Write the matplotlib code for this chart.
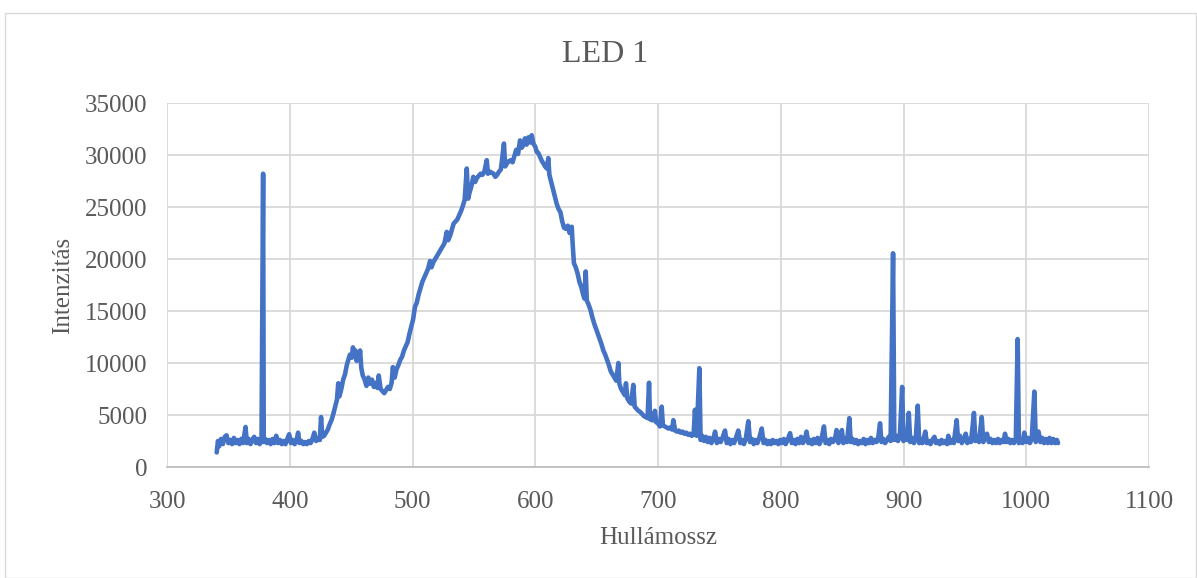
import matplotlib
matplotlib.use("Agg")
import matplotlib.pyplot as plt
from matplotlib.patches import Rectangle

plt.rcParams['font.family'] = ['Liberation Serif', 'DejaVu Serif']

title = "LED 1"
x_label = "Hullámossz"
y_label = "Intenzitás"
x_ticks = [300, 400, 500, 600, 700, 800, 900, 1000, 1100]
y_ticks = [0, 5000, 10000, 15000, 20000, 25000, 30000, 35000]

# Spectrum: (wavelength, intensity)
wavelength_left = [340.5, 341.5, 342.5, 344, 345.5, 347, 348.5, 350, 351.5, 353, 354.5, 356, 357.5, 359, 360.5, 362, 364, 365, 366.5, 368, 369.5, 371, 372.5, 374, 375.5, 377, 378.3, 378.8, 380, 381.5, 383, 384.5, 386, 387.5, 389, 390.5, 392, 393.5, 395, 396.5, 398, 399.5, 401, 402.5, 404, 405.5, 406.8, 408, 409.5, 411, 412.5, 414, 415.5, 417, 418.5, 420, 421.5, 423, 424.5, 425.5, 426.5, 428, 429.5, 431, 432.5, 434, 435.5, 437, 438.5, 439.5, 440.5, 442, 443.5, 445, 446.5, 447.7, 449, 450.5, 451.5, 452.5, 453.5, 454.5, 455.5, 456.5, 457.3, 458.3, 459.5, 461, 462.5, 464, 465.5, 467, 468.5, 470, 471.5, 472.5, 474, 475.5, 477, 478.5, 480, 481.5, 483, 484, 485.5, 487, 488.5, 490, 491.5, 493, 494.5, 496, 497.5, 499]
intensity_left = [1400, 2500, 2000, 2700, 2200, 2900, 3050, 2300, 2600, 2200, 2800, 2300, 2600, 2200, 2700, 2300, 3850, 2300, 2700, 2200, 2600, 2900, 2300, 2700, 2200, 2600, 28200, 2400, 2700, 2300, 2600, 2200, 2700, 2300, 3000, 2300, 2600, 2200, 2500, 2200, 2700, 3150, 2300, 2600, 2200, 2500, 3300, 2300, 2500, 2200, 2400, 2200, 2500, 2300, 2700, 3300, 2500, 2700, 2600, 4800, 2900, 3000, 3300, 3600, 4100, 4500, 5100, 5800, 6500, 8050, 6800, 7500, 8400, 8900, 9800, 10300, 10800, 10500, 11500, 10700, 11200, 10200, 10900, 10400, 11200, 9500, 8800, 8400, 7800, 8600, 8000, 8400, 7700, 8100, 7600, 8800, 7500, 7300, 7100, 7400, 7700, 7500, 8100, 9600, 8600, 9400, 9800, 10300, 10600, 11200, 11600, 12000, 12800, 13500]

wavelength_mid = [500.5, 502, 503.5, 505, 506.5, 508, 509.5, 511, 512.5, 514.3, 515.5, 517, 518.5, 520, 521.5, 523, 524.5, 526, 527.9, 529, 530.5, 532, 533.5, 535, 536.5, 538, 539.5, 541, 542.5, 544.2, 545.3, 546.5, 548, 549.5, 551, 552.5, 554, 555.5, 557, 558.5, 560.5, 561.5, 563, 564.5, 566, 567.5, 569, 570.5, 572, 574.5, 575.5, 577, 578.5, 580, 581.5, 583, 584.5, 586, 587.6, 589, 590.5, 591.6, 593, 594.5, 596, 597.1, 598.5, 600, 601.2, 602.5, 604, 605.5, 606.6, 608, 609.5, 610.6, 611.5, 613, 614.7, 616, 617.5, 619, 620.5, 622, 623.5, 625, 626.5, 628, 629.7, 630.5, 631.5, 633, 634.5, 636, 637.5, 639, 640, 641.1, 642, 643.5, 645, 646.5, 648, 649.5, 651, 652.5, 654, 655.5, 657, 658.5, 660, 661.5, 663, 664.5, 666, 667.7, 668.5, 670, 671.5, 673, 673.9, 675, 676.5, 678, 679.9, 681, 682.5, 684, 685.5, 687, 688.5, 690, 691.5, 692.7, 693.5, 695, 696.2, 697.5, 698.5, 700, 701.6, 703, 704, 705.5, 707, 708.5, 710, 711.5, 712.5, 714, 715.5, 717, 718.5, 720, 721.5, 723, 724.5, 726, 727.5, 729, 730.1, 731.5, 733.7, 734.7, 736]
intensity_mid = [14200, 15400, 15800, 16600, 17200, 17800, 18200, 18600, 19000, 19800, 19200, 19700, 20000, 20300, 20600, 20900, 21200, 21500, 22600, 21800, 22200, 22800, 23400, 23600, 23800, 24200, 24600, 25100, 25700, 28700, 25800, 26400, 27000, 27900, 27400, 27800, 28000, 28200, 28100, 28400, 29500, 28200, 28400, 28300, 28200, 27900, 28100, 28400, 28600, 31100, 28900, 29200, 29400, 29500, 29300, 29900, 30500, 30100, 31400, 30700, 31000, 31600, 31000, 31700, 31200, 31900, 31100, 30800, 30300, 30200, 29800, 29400, 29200, 28900, 28700, 29700, 28100, 27400, 26600, 26000, 25300, 24800, 24500, 23600, 23000, 22900, 23200, 22500, 23100, 21400, 19600, 19200, 18600, 17800, 17300, 16600, 16200, 18800, 16000, 15600, 15100, 14400, 13800, 13300, 12800, 12300, 11800, 11200, 10800, 10300, 9800, 9200, 8900, 8600, 8300, 10000, 8000, 7500, 7200, 6900, 8050, 6600, 6300, 6100, 7900, 5800, 5600, 5400, 5300, 5100, 4900, 4800, 4700, 8100, 4600, 4500, 4500, 5400, 4300, 4200, 3900, 5800, 4000, 3900, 3800, 3700, 3800, 3600, 4500, 3500, 3400, 3500, 3300, 3400, 3200, 3300, 3100, 3200, 3000, 3100, 5500, 3000, 9500, 2600, 3000]

wavelength_right = [737.5, 739, 740.5, 742, 743.5, 745, 746.5, 748, 749.5, 751, 752.5, 754.6, 756, 757.5, 759, 760.5, 762, 763.5, 765.4, 767, 768.5, 770, 771.5, 773.6, 775, 776.5, 778, 779.5, 781, 782.5, 784.5, 786, 787.5, 789, 790.5, 792, 793.5, 795, 796.5, 798, 799.5, 801, 802.5, 804, 805.5, 807.6, 809, 810.5, 812, 813.5, 815, 816.5, 818, 819.5, 821, 822.5, 824, 825.5, 827, 828.5, 830, 831.5, 833, 835.2, 836.5, 838, 839.5, 841, 842.5, 844, 845.5, 847, 848.5, 849.8, 851, 852.5, 854, 855.9, 857, 858.5, 860, 861.5, 863, 864.5, 866, 867.5, 869, 870.5, 872, 873.5, 875, 876.5, 878, 879.5, 880.9, 882, 883.5, 885, 886.5, 888, 889.5, 891.5, 892.5, 894, 895.5, 897, 898.9, 900, 901.5, 903, 904.3, 905.5, 907, 908.5, 910, 911.6, 912.8, 914, 915.5, 917.8, 919, 920.5, 922, 923.5, 925.2, 926.5, 928, 929.5, 931, 932.5, 934, 935.5, 936.5, 938, 939.5, 941, 943.3, 944.5, 946, 947.5, 949, 950.7, 952, 953.5, 955, 957.4, 958.5, 960, 961.5, 963.7, 965, 966.5, 968, 969.5, 971, 972.5, 974, 975.5, 977, 978.5, 980, 981.5, 982.7, 984, 985.5, 987, 988.5, 990, 991.5, 993, 994, 995.5, 997, 998.4, 1000, 1001.5, 1003, 1004.5, 1006.6, 1007.8, 1009, 1010, 1011.5, 1013, 1014.5, 1016, 1017.5, 1019, 1020.5, 1022, 1023.5, 1025, 1025.9]
intensity_right = [2500, 2900, 2400, 2800, 2300, 2700, 3400, 2300, 2700, 2400, 2800, 3500, 2300, 2700, 2200, 2600, 2300, 2800, 3500, 2300, 2600, 2200, 2700, 4400, 2400, 2700, 2200, 2600, 2300, 2800, 3700, 2300, 2600, 2200, 2500, 2200, 2600, 2300, 2500, 2200, 2600, 2300, 2700, 2200, 2600, 3250, 2300, 2600, 2200, 2700, 2300, 2900, 2300, 2600, 3400, 2300, 2600, 2200, 2700, 2300, 2800, 2200, 2600, 3900, 2300, 2600, 2200, 2700, 2400, 2600, 3550, 2300, 2700, 3550, 2300, 2700, 2400, 4700, 2400, 2700, 2300, 2600, 2200, 2500, 2300, 2700, 2200, 2600, 2300, 2800, 2300, 2600, 2400, 2900, 4200, 2400, 2700, 2300, 2600, 2900, 2500, 20550, 2600, 3000, 2500, 2900, 7700, 2500, 3000, 2600, 5200, 2400, 2800, 2300, 2700, 5900, 2300, 2700, 2300, 3400, 2300, 2500, 2200, 2600, 2900, 2300, 2500, 2200, 2600, 2300, 2500, 2200, 3000, 2300, 2600, 2300, 4500, 2500, 3000, 2300, 2600, 3200, 2300, 2700, 2400, 5200, 2500, 2900, 2400, 4800, 2400, 2800, 3200, 2400, 2700, 2300, 2600, 2300, 2700, 2300, 2600, 2400, 3200, 2400, 2700, 2300, 2600, 2300, 2700, 12300, 2300, 2600, 2300, 3300, 2400, 2800, 2300, 2700, 7250, 2400, 2900, 3400, 2400, 2800, 2300, 2700, 2300, 2800, 2300, 2700, 2300, 2600, 2300]

wavelength = wavelength_left + wavelength_mid + wavelength_right
intensity = intensity_left + intensity_mid + intensity_right

fig = plt.figure(figsize=(11.97, 5.78), dpi=100)
fig.patch.set_facecolor('white')
fig.patches.append(Rectangle((5 / 1197, 0), 1 - 6 / 1197, 1 - 13 / 578,
                             transform=fig.transFigure, fill=False,
                             edgecolor='#D9D9D9', linewidth=1.0))

ax = fig.add_axes([167 / 1197, (578 - 467) / 578, (1149 - 167) / 1197, (467 - 103) / 578])
ax.plot(wavelength, intensity, color='#4472C4', linewidth=3.3,
        solid_joinstyle='round', solid_capstyle='round', zorder=3)

ax.set_xlim(300, 1100)
ax.set_ylim(0, 35000)
ax.set_xticks(x_ticks)
ax.set_yticks(y_ticks)
ax.grid(True, color='#D9D9D9', linewidth=1.3, zorder=0)
ax.set_axisbelow(True)
for s in ['left', 'right', 'top']:
    ax.spines[s].set_visible(False)
ax.spines['bottom'].set_color('#BFBFBF')
ax.spines['bottom'].set_linewidth(1.3)
ax.tick_params(axis='both', length=0, labelsize=18, labelcolor='#595959')
ax.tick_params(axis='x', pad=17)
ax.tick_params(axis='y', pad=14)

fig.text(605 / 1197, 1 - 55 / 578, title, fontsize=23, color='#595959',
         ha='center', va='center')
ax.set_xlabel(x_label, fontsize=18, color='#595959', labelpad=10)
ax.set_ylabel(y_label, fontsize=18, color='#595959', labelpad=8)

fig.savefig('out.png', dpi=100, facecolor='white')
